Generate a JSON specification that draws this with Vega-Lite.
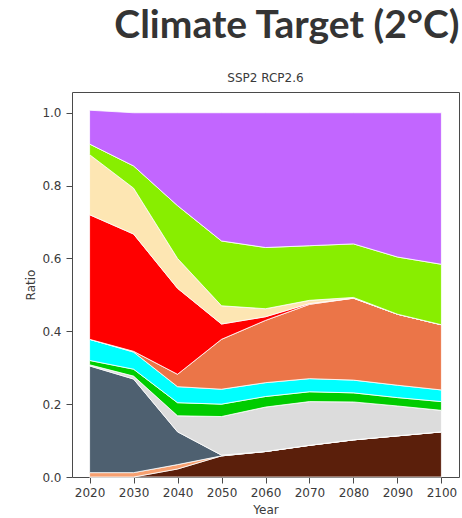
{
  "$schema": "https://vega.github.io/schema/vega-lite/v6.json",
  "background": "white",
  "padding": {"left": 24, "top": 6, "right": 2, "bottom": 0},
  "title": {
    "text": "Climate Target (2°C)",
    "anchor": "end",
    "font": "Lato",
    "fontSize": 39,
    "fontWeight": "bold",
    "color": "#343434",
    "offset": 26
  },
  "config": {
    "view": {"stroke": "#4a4a4a", "strokeWidth": 1},
    "axis": {
      "domain": false,
      "grid": false,
      "tickColor": "#4a4a4a",
      "tickSize": 6,
      "labelFont": "DejaVu Sans",
      "labelFontSize": 12,
      "labelColor": "#3a3a3a",
      "titleFont": "DejaVu Sans",
      "titleFontSize": 12,
      "titleFontWeight": "normal",
      "titleColor": "#3a3a3a"
    }
  },
  "vconcat": [
    {
      "width": 387,
      "height": 385,
      "title": {
        "text": "SSP2 RCP2.6",
        "anchor": "middle",
        "font": "DejaVu Sans",
        "fontSize": 12,
        "fontWeight": "normal",
        "color": "#3a3a3a",
        "offset": 7
      },
      "data": {
        "values": [
          {"year": 2020, "series": "Series 1", "rank": 1, "share": 0},
          {"year": 2030, "series": "Series 1", "rank": 1, "share": 0},
          {"year": 2040, "series": "Series 1", "rank": 1, "share": 0.022},
          {"year": 2050, "series": "Series 1", "rank": 1, "share": 0.058},
          {"year": 2060, "series": "Series 1", "rank": 1, "share": 0.07},
          {"year": 2070, "series": "Series 1", "rank": 1, "share": 0.087},
          {"year": 2080, "series": "Series 1", "rank": 1, "share": 0.102},
          {"year": 2090, "series": "Series 1", "rank": 1, "share": 0.113},
          {"year": 2100, "series": "Series 1", "rank": 1, "share": 0.124},

          {"year": 2020, "series": "Series 2", "rank": 2, "share": 0.012},
          {"year": 2030, "series": "Series 2", "rank": 2, "share": 0.012},
          {"year": 2040, "series": "Series 2", "rank": 2, "share": 0.012},
          {"year": 2050, "series": "Series 2", "rank": 2, "share": 0},
          {"year": 2060, "series": "Series 2", "rank": 2, "share": 0},
          {"year": 2070, "series": "Series 2", "rank": 2, "share": 0},
          {"year": 2080, "series": "Series 2", "rank": 2, "share": 0},
          {"year": 2090, "series": "Series 2", "rank": 2, "share": 0},
          {"year": 2100, "series": "Series 2", "rank": 2, "share": 0},

          {"year": 2020, "series": "Series 3", "rank": 3, "share": 0.293},
          {"year": 2030, "series": "Series 3", "rank": 3, "share": 0.257},
          {"year": 2040, "series": "Series 3", "rank": 3, "share": 0.09},
          {"year": 2050, "series": "Series 3", "rank": 3, "share": 0.002},
          {"year": 2060, "series": "Series 3", "rank": 3, "share": 0},
          {"year": 2070, "series": "Series 3", "rank": 3, "share": 0},
          {"year": 2080, "series": "Series 3", "rank": 3, "share": 0},
          {"year": 2090, "series": "Series 3", "rank": 3, "share": 0},
          {"year": 2100, "series": "Series 3", "rank": 3, "share": 0},

          {"year": 2020, "series": "Series 4", "rank": 4, "share": 0.003},
          {"year": 2030, "series": "Series 4", "rank": 4, "share": 0.008},
          {"year": 2040, "series": "Series 4", "rank": 4, "share": 0.044},
          {"year": 2050, "series": "Series 4", "rank": 4, "share": 0.106},
          {"year": 2060, "series": "Series 4", "rank": 4, "share": 0.122},
          {"year": 2070, "series": "Series 4", "rank": 4, "share": 0.12},
          {"year": 2080, "series": "Series 4", "rank": 4, "share": 0.104},
          {"year": 2090, "series": "Series 4", "rank": 4, "share": 0.082},
          {"year": 2100, "series": "Series 4", "rank": 4, "share": 0.059},

          {"year": 2020, "series": "Series 5", "rank": 5, "share": 0.012},
          {"year": 2030, "series": "Series 5", "rank": 5, "share": 0.019},
          {"year": 2040, "series": "Series 5", "rank": 5, "share": 0.036},
          {"year": 2050, "series": "Series 5", "rank": 5, "share": 0.034},
          {"year": 2060, "series": "Series 5", "rank": 5, "share": 0.029},
          {"year": 2070, "series": "Series 5", "rank": 5, "share": 0.027},
          {"year": 2080, "series": "Series 5", "rank": 5, "share": 0.025},
          {"year": 2090, "series": "Series 5", "rank": 5, "share": 0.023},
          {"year": 2100, "series": "Series 5", "rank": 5, "share": 0.024},

          {"year": 2020, "series": "Series 6", "rank": 6, "share": 0.058},
          {"year": 2030, "series": "Series 6", "rank": 6, "share": 0.047},
          {"year": 2040, "series": "Series 6", "rank": 6, "share": 0.044},
          {"year": 2050, "series": "Series 6", "rank": 6, "share": 0.041},
          {"year": 2060, "series": "Series 6", "rank": 6, "share": 0.038},
          {"year": 2070, "series": "Series 6", "rank": 6, "share": 0.036},
          {"year": 2080, "series": "Series 6", "rank": 6, "share": 0.035},
          {"year": 2090, "series": "Series 6", "rank": 6, "share": 0.034},
          {"year": 2100, "series": "Series 6", "rank": 6, "share": 0.032},

          {"year": 2020, "series": "Series 7", "rank": 7, "share": 0},
          {"year": 2030, "series": "Series 7", "rank": 7, "share": 0.002},
          {"year": 2040, "series": "Series 7", "rank": 7, "share": 0.034},
          {"year": 2050, "series": "Series 7", "rank": 7, "share": 0.137},
          {"year": 2060, "series": "Series 7", "rank": 7, "share": 0.171},
          {"year": 2070, "series": "Series 7", "rank": 7, "share": 0.204},
          {"year": 2080, "series": "Series 7", "rank": 7, "share": 0.225},
          {"year": 2090, "series": "Series 7", "rank": 7, "share": 0.195},
          {"year": 2100, "series": "Series 7", "rank": 7, "share": 0.179},

          {"year": 2020, "series": "Series 8", "rank": 8, "share": 0.342},
          {"year": 2030, "series": "Series 8", "rank": 8, "share": 0.322},
          {"year": 2040, "series": "Series 8", "rank": 8, "share": 0.236},
          {"year": 2050, "series": "Series 8", "rank": 8, "share": 0.042},
          {"year": 2060, "series": "Series 8", "rank": 8, "share": 0.01},
          {"year": 2070, "series": "Series 8", "rank": 8, "share": 0.002},
          {"year": 2080, "series": "Series 8", "rank": 8, "share": 0},
          {"year": 2090, "series": "Series 8", "rank": 8, "share": 0},
          {"year": 2100, "series": "Series 8", "rank": 8, "share": 0},

          {"year": 2020, "series": "Series 9", "rank": 9, "share": 0.165},
          {"year": 2030, "series": "Series 9", "rank": 9, "share": 0.126},
          {"year": 2040, "series": "Series 9", "rank": 9, "share": 0.082},
          {"year": 2050, "series": "Series 9", "rank": 9, "share": 0.05},
          {"year": 2060, "series": "Series 9", "rank": 9, "share": 0.022},
          {"year": 2070, "series": "Series 9", "rank": 9, "share": 0.009},
          {"year": 2080, "series": "Series 9", "rank": 9, "share": 0.002},
          {"year": 2090, "series": "Series 9", "rank": 9, "share": 0},
          {"year": 2100, "series": "Series 9", "rank": 9, "share": 0},

          {"year": 2020, "series": "Series 10", "rank": 10, "share": 0.029},
          {"year": 2030, "series": "Series 10", "rank": 10, "share": 0.061},
          {"year": 2040, "series": "Series 10", "rank": 10, "share": 0.145},
          {"year": 2050, "series": "Series 10", "rank": 10, "share": 0.178},
          {"year": 2060, "series": "Series 10", "rank": 10, "share": 0.168},
          {"year": 2070, "series": "Series 10", "rank": 10, "share": 0.15},
          {"year": 2080, "series": "Series 10", "rank": 10, "share": 0.147},
          {"year": 2090, "series": "Series 10", "rank": 10, "share": 0.157},
          {"year": 2100, "series": "Series 10", "rank": 10, "share": 0.166},

          {"year": 2020, "series": "Series 11", "rank": 11, "share": 0.093},
          {"year": 2030, "series": "Series 11", "rank": 11, "share": 0.146},
          {"year": 2040, "series": "Series 11", "rank": 11, "share": 0.255},
          {"year": 2050, "series": "Series 11", "rank": 11, "share": 0.352},
          {"year": 2060, "series": "Series 11", "rank": 11, "share": 0.37},
          {"year": 2070, "series": "Series 11", "rank": 11, "share": 0.365},
          {"year": 2080, "series": "Series 11", "rank": 11, "share": 0.36},
          {"year": 2090, "series": "Series 11", "rank": 11, "share": 0.396},
          {"year": 2100, "series": "Series 11", "rank": 11, "share": 0.416}
        ]
      },
      "mark": {"type": "area", "stroke": "white", "strokeWidth": 0.8, "opacity": 1, "interpolate": "linear"},
      "encoding": {
        "x": {
          "field": "year",
          "type": "quantitative",
          "scale": {"domain": [2016, 2104], "nice": false, "zero": false},
          "axis": {
            "title": "Year",
            "values": [2020, 2030, 2040, 2050, 2060, 2070, 2080, 2090, 2100],
            "format": "d",
            "labelPadding": 4,
            "titlePadding": 6
          }
        },
        "y": {
          "field": "share",
          "type": "quantitative",
          "stack": "zero",
          "scale": {"domain": [0, 1.057], "nice": false},
          "axis": {
            "title": "Ratio",
            "values": [0, 0.2, 0.4, 0.6, 0.8, 1.0],
            "format": ".1f",
            "labelPadding": 5,
            "titlePadding": 4
          }
        },
        "color": {
          "field": "series",
          "type": "nominal",
          "legend": null,
          "scale": {
            "domain": ["Series 1", "Series 2", "Series 3", "Series 4", "Series 5", "Series 6", "Series 7", "Series 8", "Series 9", "Series 10", "Series 11"],
            "range": ["#5b1f0b", "#f7a070", "#4e6070", "#dcdcdc", "#00cc00", "#00ffff", "#eb7548", "#ff0000", "#fde6b3", "#88ee00", "#c266ff"]
          }
        },
        "order": {"field": "rank", "type": "quantitative"}
      }
    }
  ]
}
